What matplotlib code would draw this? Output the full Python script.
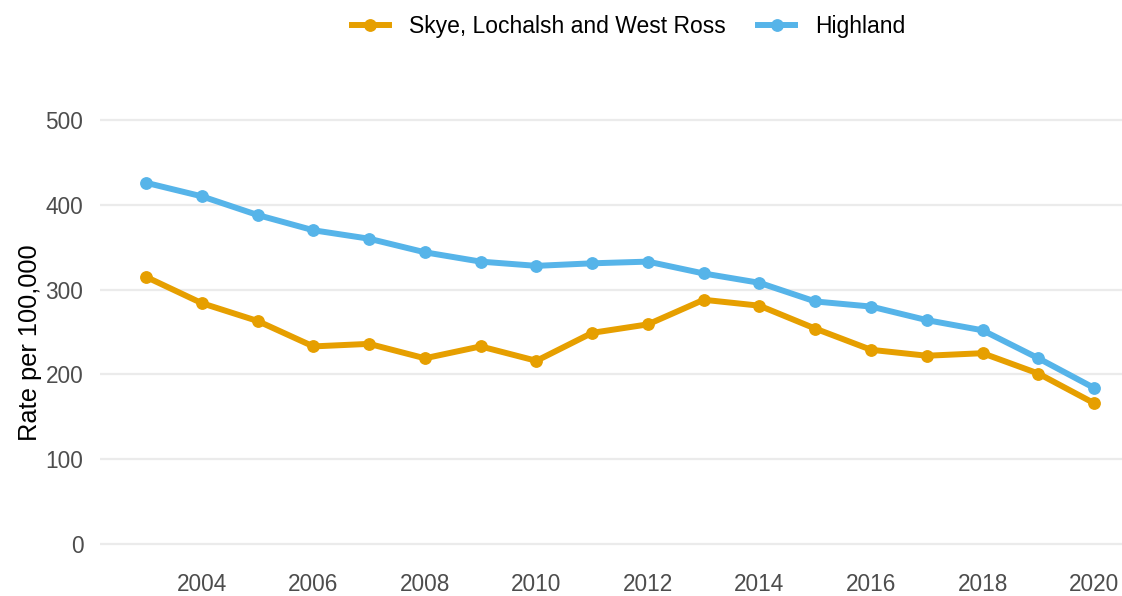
import matplotlib
matplotlib.use("Agg")
import matplotlib.pyplot as plt
from matplotlib.lines import Line2D

years = list(range(2003, 2021))
skye = [315, 284, 263, 233, 236, 219, 233, 216, 249, 259, 288, 281, 254, 229, 222, 225, 201, 166]
highland = [426, 410, 388, 370, 360, 344, 333, 328, 331, 333, 319, 308, 286, 280, 264, 252, 219, 184]
series_names = ["Skye, Lochalsh and West Ross", "Highland"]
y_ticks = [0, 100, 200, 300, 400, 500]
x_ticks = list(range(2004, 2021, 2))

plt.rcParams['font.family'] = ['Liberation Sans', 'DejaVu Sans']

W, H = 1122, 596
fig = plt.figure(figsize=(W/100, H/100), dpi=100)
ax = fig.add_axes([100/W, 1-565/H, 1-100/W, (565-90)/H])

orange = "#E69F00"
blue = "#56B4E9"
lw, ms = 4.3, 8.2
ax.plot(years, skye, color=orange, lw=lw, marker="o", ms=ms, solid_capstyle="round", zorder=3)
ax.plot(years, highland, color=blue, lw=lw, marker="o", ms=ms, solid_capstyle="round", zorder=3)

ax.set_xlim(2002.175, 2020.5)
ax.set_ylim(-24.8, 535.4)
ax.set_yticks(y_ticks)
ax.set_xticks(x_ticks)
ax.grid(axis="y", color="#EBEBEB", lw=1.6)
ax.grid(axis="x", visible=False)
ax.set_axisbelow(True)
for s in ax.spines.values():
    s.set_visible(False)
ax.tick_params(length=0, labelsize=16.3, labelcolor="#4D4D4D")
ax.tick_params(axis="y", pad=12)
ax.tick_params(axis="x", pad=6)
ax.set_ylabel("Rate per 100,000", fontsize=18.3, color="black")
ax.yaxis.set_label_coords(-58/(W-100), 0.469)

handles = [Line2D([], [], color=orange, lw=lw, marker="o", ms=ms),
           Line2D([], [], color=blue, lw=lw, marker="o", ms=ms)]
fig.legend(handles, series_names, loc="center", bbox_to_anchor=(629/W, 1-27/H), ncol=2,
           frameon=False, fontsize=16.5, handlelength=1.6, columnspacing=1.4, handletextpad=0.9)

fig.savefig("out.png", dpi=100)
